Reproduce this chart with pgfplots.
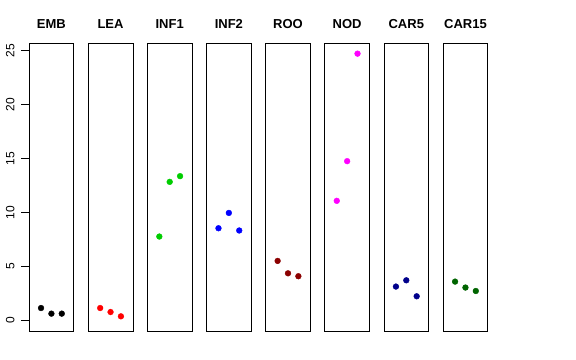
\documentclass[border=0pt]{standalone}
\usepackage{pgfplots}
\pgfplotsset{compat=1.18}
\usepackage{fontspec}
\setmainfont{Liberation Sans}[BoldFont={Liberation Sans Bold}]
\definecolor{rgreen}{HTML}{00CD00}
\definecolor{rdarkred}{HTML}{8B0000}
\definecolor{rdarkblue}{HTML}{00008B}
\definecolor{rdarkgreen}{HTML}{006400}
\definecolor{rmagenta}{HTML}{FF00FF}
\pgfplotsset{
  panel/.style={
    scale only axis, width=44.8bp, height=287.7bp,
    xmin=-0.16, xmax=4.16, ymin=-0.99, ymax=25.69,
    xtick=\empty, ytick=\empty, axis line style={black, line width=0.75bp},
    anchor=south west, clip=false,
    title style={font=\fontsize{13bp}{15bp}\selectfont\bfseries, anchor=base, at={(0.5,1)}, yshift=9.3bp},
  },
  pts/.style={only marks, mark=*, mark size=2.9bp, mark options={draw=#1, fill=#1}},
}
\begin{document}
\begin{tikzpicture}
\useasboundingbox (0,0) rectangle (576bp,360bp);
\begin{axis}[panel, at={(29bp,29bp)}, title={\textbf{EMB}},
  ytick={0,5,10,15,20,25}, ytick pos=left, tick align=outside,
  major tick length=8bp, tick style={black, line width=0.75bp},
  /pgf/number format/assume math mode=true,
  yticklabel shift=3bp,
  yticklabel style={rotate=90, anchor=south, font=\fontsize{12bp}{14bp}\selectfont}]
\addplot[pts=black] coordinates {(1,1.14) (2,0.62) (3,0.62)};
\end{axis}
\begin{axis}[panel, at={(88.15bp,29bp)}, title={\textbf{LEA}}]
\addplot[pts=red] coordinates {(1,1.14) (2,0.77) (3,0.37)};
\end{axis}
\begin{axis}[panel, at={(147.3bp,29bp)}, title={\textbf{INF1}}]
\addplot[pts=rgreen] coordinates {(1,7.77) (2,12.84) (3,13.37)};
\end{axis}
\begin{axis}[panel, at={(206.45bp,29bp)}, title={\textbf{INF2}}]
\addplot[pts=blue] coordinates {(1,8.54) (2,9.96) (3,8.33)};
\end{axis}
\begin{axis}[panel, at={(265.6bp,29bp)}, title={\textbf{ROO}}]
\addplot[pts=rdarkred] coordinates {(1,5.51) (2,4.36) (3,4.09)};
\end{axis}
\begin{axis}[panel, at={(324.75bp,29bp)}, title={\textbf{NOD}}]
\addplot[pts=rmagenta] coordinates {(1,11.08) (2,14.76) (3,24.73)};
\end{axis}
\begin{axis}[panel, at={(383.9bp,29bp)}, title={\textbf{CAR5}}]
\addplot[pts=rdarkblue] coordinates {(1,3.13) (2,3.71) (3,2.23)};
\end{axis}
\begin{axis}[panel, at={(443.05bp,29bp)}, title={\textbf{CAR15}}]
\addplot[pts=rdarkgreen] coordinates {(1,3.59) (2,3.04) (3,2.72)};
\end{axis}
\end{tikzpicture}
\end{document}
